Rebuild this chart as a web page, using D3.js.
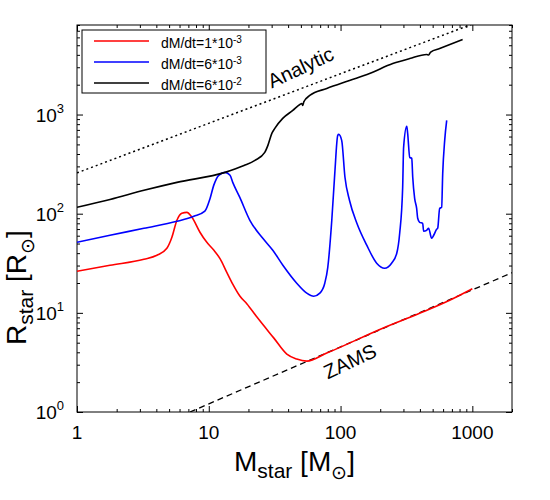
<!DOCTYPE html>
<html><head><meta charset="utf-8">
<script src="https://cdn.jsdelivr.net/npm/d3@7"></script>
<style>body{margin:0;background:#fff}svg{display:block}text{font-family:"Liberation Sans",Arial,Helvetica,sans-serif}</style>
</head><body><svg id="c" width="550" height="500"></svg>
<script>
// ---- data ----
const redM = [1.00,1.78,3.22,4.04,4.81,5.25,5.73,6.25,6.82,7.45,8.57,9.6,10.9,12.2,13.7,15.2,17.2,19.5,23.2,31.2,39.1,46.5,55.4,78.6,209,398,673,1000];
const redR = [26.3,30.2,34.7,38.1,44.8,57.8,85.8,101,103,92,65,52,43,35,25.6,19.5,14.8,12.3,9.06,5.56,3.84,3.42,3.26,3.93,7.0,9.9,13.4,17.5];

const blueM = [1,1.78,3.22,5.73,7.70,9.34,10.2,10.9,11.9,13.3,14.5,15.2,17.2,20.5,25.7,30.6,36.5,46.5,55.4,62.6,69.6,75.9,80.0,85.8,90.4,95.2,96.9,102,108,117,133,158,188,216,244,267,281,296,301,318,323,335,347,353,365,378,385,398,420,427,450,466,491,509,536,546,565,585,596,617,639];
const blueR = [51.5,60.6,71.3,83.8,94.1,106,141,193,244,261,244,207,146,85.8,56.5,42.8,30.2,19.9,15.8,14.7,15.8,19.9,28.8,85.8,255,616,631,549,233,136,80,48.1,31.7,28.2,31.7,39.9,63.5,184,467,759,645,370,361,233,143,113,89.9,81.9,80.0,66.5,68.0,71.3,56.5,60.6,69.6,71.3,113,116,255,549,873];

const blackM = [1,1.78,3.22,5.73,13.3,18.5,22.4,26.6,28.1,30.1,31.7,36.4,43.4,49.1,50.8,51.7,52.6,58.4,78.6,117,166,249,335,450,466,483,565,844];
const blackR = [116,139,172,207,261,306,345,415,489,645,725,914,1099,1264,1294,1236,1340,1557,1832,2205,2594,3271,3671,4029,3985,4270,4635,5705];

const analyticM = [1, 2000];
const analyticR = [258, 11540];
const zamsM = [7.2, 2000];
const zamsR = [1.0, 25.4];

const xMajor = [1, 10, 100, 1000];
const xMajorLabels = ["1", "10", "100", "1000"];
const yMajor = [1, 10, 100, 1000];
const yExp = ["0", "1", "2", "3"];
const legendLabels = [["dM/dt=1*10","-3"],["dM/dt=6*10","-3"],["dM/dt=6*10","-2"]];
const colors = ["#ff0000","#0000ff","#000000"];

// ---- layout ----
const L=77, R=512, T=25, B=412;
const svg = d3.select("#c");
const x = d3.scaleLog().domain([1,2000]).range([L,R]);
const y = d3.scaleLog().domain([1,8000]).range([B,T]);

svg.append("defs").append("clipPath").attr("id","clip")
  .append("rect").attr("x",L).attr("y",T).attr("width",R-L).attr("height",B-T);

// minor ticks
const xMinor=[], yMinor=[];
for (let d=1; d<=1000; d*=10) for (let k=2;k<=9;k++){ if(d*k<=2000) xMinor.push(d*k); if(d*k<=8000) yMinor.push(d*k); }

const g = svg.append("g");
function axisTicks(axisFn, scale, vals, size, transform){
  g.append("g").attr("transform",transform)
   .call(axisFn(scale).tickValues(vals).tickSize(size).tickFormat(""))
   .call(s=>s.select(".domain").remove())
   .selectAll("line").attr("stroke","#000");
}
axisTicks(d3.axisBottom, x, xMajor, -6, `translate(0,${B})`);
axisTicks(d3.axisBottom, x, xMinor, -3, `translate(0,${B})`);
axisTicks(d3.axisTop, x, xMajor, -6, `translate(0,${T})`);
axisTicks(d3.axisTop, x, xMinor, -3, `translate(0,${T})`);
axisTicks(d3.axisLeft, y, yMajor, -6, `translate(${L},0)`);
axisTicks(d3.axisLeft, y, yMinor, -3, `translate(${L},0)`);
axisTicks(d3.axisRight, y, yMajor, -6, `translate(${R},0)`);
axisTicks(d3.axisRight, y, yMinor, -3, `translate(${R},0)`);

// frame
g.append("rect").attr("x",L).attr("y",T).attr("width",R-L).attr("height",B-T)
 .attr("fill","none").attr("stroke","#000").attr("stroke-width",1);

// tick labels
g.selectAll(".xl").data(xMajor).join("text")
 .attr("x",d=>x(d)).attr("y",B+27).attr("text-anchor","middle")
 .attr("font-size",19).text((d,i)=>xMajorLabels[i]);
const yl = g.selectAll(".yl").data(yMajor).join("text")
 .attr("x",64).attr("y",d=>y(d)+7).attr("text-anchor","end").attr("font-size",19);
yl.append("tspan").text("10");
yl.append("tspan").attr("font-size",13).attr("dy",-9).text((d,i)=>yExp[i]);

// axis titles
const xt = g.append("text").attr("x",(L+R)/2).attr("y",471).attr("text-anchor","middle").attr("font-size",28);
xt.append("tspan").text("M");
xt.append("tspan").attr("font-size",21).attr("dy",7).text("star");
xt.append("tspan").attr("dy",-7).text(" [M");
xt.append("tspan").attr("font-size",19).attr("dy",8).text("\u2299");
xt.append("tspan").attr("dy",-8).text("]");

const yt = g.append("text").attr("transform","translate(26,345) rotate(-90)").attr("text-anchor","start").attr("font-size",28);
yt.append("tspan").text("R");
yt.append("tspan").attr("font-size",21).attr("dy",7).text("star");
yt.append("tspan").attr("dy",-7).text(" [R");
yt.append("tspan").attr("font-size",19).attr("dy",8).text("\u2299");
yt.append("tspan").attr("dy",-8).text("]");

// lines
const plot = svg.append("g").attr("clip-path","url(#clip)");
const line = d3.line().x(d=>x(d[0])).y(d=>y(d[1]));
const lineC = d3.line().x(d=>x(d[0])).y(d=>y(d[1])).curve(d3.curveMonotoneX);
const zip = (a,b)=>a.map((v,i)=>[v,b[i]]);

plot.append("path").datum(zip(zamsM,zamsR)).attr("d",line).attr("fill","none")
 .attr("stroke","#000").attr("stroke-width",1.3).attr("stroke-dasharray","6,4");
plot.append("path").datum(zip(analyticM,analyticR)).attr("d",line).attr("fill","none")
 .attr("stroke","#000").attr("stroke-width",1.5).attr("stroke-dasharray","2,3");

[[redM,redR],[blueM,blueR],[blackM,blackR]].forEach(([m,r],i)=>{
  plot.append("path").datum(zip(m,r)).attr("d",lineC).attr("fill","none")
   .attr("stroke",colors[i]).attr("stroke-width",1.6).attr("stroke-linejoin","round");
});

// annotations
const anaAt = 31.7, anaVal = analyticR[0]*Math.sqrt(anaAt);
g.append("text").attr("transform",`translate(${x(anaAt)-3},${y(anaVal)-10}) rotate(-25)`)
 .attr("font-size",20).text("Analytic");
const zAt = 80, zVal = zamsR[0]*Math.pow(zAt/zamsM[0],0.575);
g.append("text").attr("transform",`translate(${x(zAt)},${y(zVal)+27}) rotate(-25)`)
 .attr("font-size",20).text("ZAMS");

// legend
const lg = svg.append("g");
lg.append("rect").attr("x",82).attr("y",30).attr("width",184).attr("height",63)
 .attr("fill","#fff").attr("stroke","#000").attr("stroke-width",1);
legendLabels.forEach((lab,i)=>{
  const yy = 41 + i*21;
  lg.append("line").attr("x1",94).attr("x2",149).attr("y1",yy).attr("y2",yy)
   .attr("stroke",colors[i]).attr("stroke-width",1.6);
  const t = lg.append("text").attr("x",161).attr("y",yy+7).attr("font-size",14);
  t.append("tspan").text(lab[0]);
  t.append("tspan").attr("font-size",10).attr("dy",-5).text(lab[1]);
});
</script></body></html>
